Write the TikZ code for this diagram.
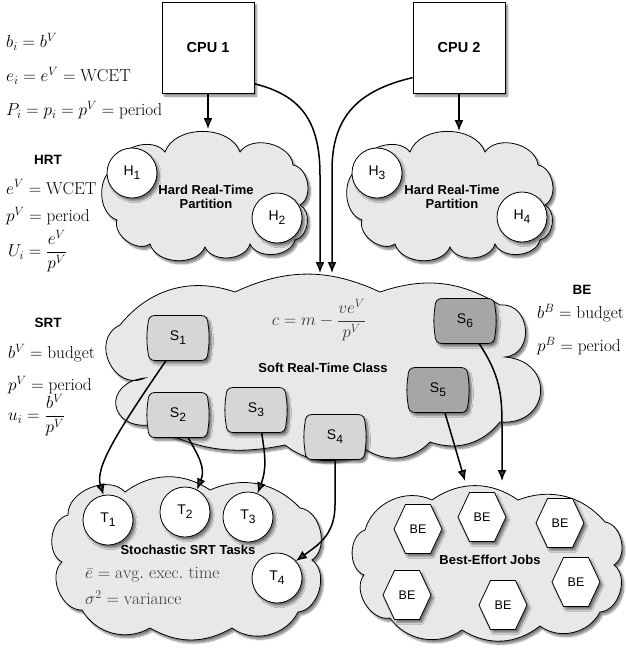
\documentclass[tikz,border=0pt]{standalone}
\usepackage{amsmath}
\usepackage{fontspec}
\newfontfamily\hv{Liberation Sans}
\usetikzlibrary{arrows.meta,shadows,shadows.blur,calc}
\definecolor{cloudgray}{gray}{0.91}
\definecolor{sgray}{gray}{0.84}
\definecolor{sdark}{gray}{0.65}
\definecolor{textgray}{gray}{0.22}
\newcommand\lsub[2]{#1\raisebox{-0.55ex}{\fontsize{12}{12}\selectfont #2}}
\begin{document}
\begin{tikzpicture}[x=1pt,y=-1pt,font=\fontsize{17.28}{20}\selectfont,
  shad/.style={blur shadow={shadow xshift=2.5pt,shadow yshift=-3pt,shadow blur steps=8,shadow opacity=50}},
  cloudst/.style={fill=cloudgray,draw=black,line width=0.8pt,shad},
  cpubox/.style={draw,fill=white,line width=0.8pt,minimum width=92,minimum height=91,inner sep=0,font=\hv\bfseries\fontsize{14.5}{16}\selectfont,shad},
  ball/.style={circle,draw,fill=white,line width=0.8pt,minimum size=50,inner sep=0,font=\hv\fontsize{14}{16}\selectfont,shad},
  sfill/.style={draw,line width=0.8pt,shad},
  slbl/.style={minimum width=61,minimum height=45,inner sep=0,font=\hv\fontsize{14}{16}\selectfont},
  hexfill/.style={draw,fill=white,line width=0.8pt,shad},
  hexlbl/.style={inner sep=0,font=\hv\fontsize{12.5}{14}\selectfont},
  lbl/.style={font=\hv\bfseries\fontsize{13}{14}\selectfont,align=center,inner sep=0},
  head/.style={font=\hv\bfseries\fontsize{13.5}{15}\selectfont,inner sep=0},
  mtxt/.style={anchor=west,inner sep=0},
  arr/.style={line width=1.5pt,-{Latex[length=11pt,width=9pt]}}]
\newcommand\hexnode[3]{\path[hexfill,shift={#1}] (-24,0) -- (-12.5,-24.5) -- (12.5,-24.5) -- (24,0) -- (12.5,24.5) -- (-12.5,24.5) -- cycle; \node[hexlbl] (#2) at #1 {#3};}
\newcommand\srtnode[4]{\path[sfill,fill=#4,shift={#1}] (-23,-22.5) -- (23,-22.5) .. controls (28,-22.5) and (30,-19) .. (30,-14) .. controls (31.5,-5) and (31.5,5) .. (30,14) .. controls (30,19) and (28,22.5) .. (23,22.5) -- (-23,22.5) .. controls (-28,22.5) and (-30,19) .. (-30,14) .. controls (-31.5,5) and (-31.5,-5) .. (-30,-14) .. controls (-30,-19) and (-28,-22.5) .. (-23,-22.5) -- cycle; \node[slbl] (#2) at #1 {#3};}
\useasboundingbox (0,0) rectangle (626,649);

% ---- clouds
\path[cloudst] (115,168) to[bend left=70] (165,152) to[bend left=70] (240,152) to[bend left=70] (293,165) to[bend left=70] (300,205) to[bend left=70] (295,240) to[bend left=70] (250,244) to[bend left=70] (205,247) to[bend left=70] (150,244) to[bend left=70] (117,220) to[bend left=70] (115,168) -- cycle;
\begin{scope}[xshift=245pt]
\path[cloudst] (115,168) to[bend left=70] (165,152) to[bend left=70] (240,152) to[bend left=70] (293,165) to[bend left=70] (300,205) to[bend left=70] (295,240) to[bend left=70] (250,244) to[bend left=70] (205,247) to[bend left=70] (150,244) to[bend left=70] (117,220) to[bend left=70] (115,168) -- cycle;
\end{scope}
\path[cloudst] (120,325) to[bend left=35] (235,292) to[bend left=25] (380,292) to[bend left=25] (500,305) to[bend left=90,looseness=1.5] (505,357) to[bend left=90,looseness=2] (500,422) to[bend left=35] (430,442) to[bend left=40] (365,449) to[bend left=35] (285,445) to[bend left=20] (150,425) to[bend left=90,looseness=2.3] (145,378) to[bend left=90,looseness=1.5] (120,325) -- cycle;
\path[cloudst] (68,515) to[bend left=70] (125,492) to[bend left=35] (210,490) to[bend left=35] (300,508) to[bend left=70] (312,560) to[bend left=70] (298,612) to[bend left=50] (232,628) to[bend left=30] (150,628) to[bend left=45] (82,610) to[bend left=70] (62,562) to[bend left=70] (68,515) -- cycle;
\path[cloudst] (365,530) to[bend left=50] (432,500) to[bend left=35] (518,500) to[bend left=35] (605,522) to[bend left=70] (614,565) to[bend left=70] (600,612) to[bend left=50] (540,626) to[bend left=35] (462,630) to[bend left=45] (390,618) to[bend left=70] (364,575) to[bend left=70] (365,530) -- cycle;

% ---- CPUs
\node[cpubox] (cpu1) at (208,47.5) {CPU 1};
\node[cpubox] (cpu2) at (459,47.5) {CPU 2};

% ---- HRT partitions
\node[ball] (h1) at (132,173) {\lsub{H}{1}};
\node[ball] (h2) at (277,218) {\lsub{H}{2}};
\node[ball] (h3) at (377,173) {\lsub{H}{3}};
\node[ball] (h4) at (522,217) {\lsub{H}{4}};
\node[lbl] (hrt1lbl) at (206,197) {Hard Real-Time\\Partition};
\node[lbl] (hrt2lbl) at (452,197) {Hard Real-Time\\Partition};

% ---- SRT class
\node[textgray] (cform) at (319,320) {$c = m - \dfrac{ve^V}{p^V}$};
\node[lbl] (srtlbl) at (323,368) {Soft Real-Time Class};
\srtnode{(178,338)}{s1}{\lsub{S}{1}}{sgray}
\srtnode{(178,415)}{s2}{\lsub{S}{2}}{sgray}
\srtnode{(256,410)}{s3}{\lsub{S}{3}}{sgray}
\srtnode{(335,437)}{s4}{\lsub{S}{4}}{sgray}
\srtnode{(438,390)}{s5}{\lsub{S}{5}}{sdark}
\srtnode{(465,321)}{s6}{\lsub{S}{6}}{sdark}

% ---- stochastic tasks
\node[ball] (t1) at (108,520) {\lsub{T}{1}};
\node[ball] (t2) at (185,512) {\lsub{T}{2}};
\node[ball] (t3) at (248,517) {\lsub{T}{3}};
\node[ball] (t4) at (277,578) {\lsub{T}{4}};
\node[lbl] (stlbl) at (188,550) {Stochastic SRT Tasks};
\node[mtxt,textgray] (e1) at (85,575) {$\bar e = \mathrm{avg.\ exec.\ time}$};
\node[mtxt,textgray] (e2) at (85,598) {$\sigma^2 = \mathrm{variance}$};

% ---- best effort
\hexnode{(418,529)}{be1}{BE}
\hexnode{(482,517)}{be2}{BE}
\hexnode{(560,523)}{be3}{BE}
\hexnode{(407,595)}{be4}{BE}
\hexnode{(503,605)}{be5}{BE}
\hexnode{(576,582)}{be6}{BE}
\node[lbl] (belbl) at (490,560) {Best-Effort Jobs};

% ---- side texts
\node[mtxt] (m1) at (6,42) {$b_i = b^V$};
\node[mtxt] (m2) at (6,76) {$e_i = e^V = \mathrm{WCET}$};
\node[mtxt] (m3) at (6,110) {$P_i = p_i = p^V = \mathrm{period}$};
\node[head] (hrth) at (48,160) {HRT};
\node[mtxt] (m4) at (6,187) {$e^V = \mathrm{WCET}$};
\node[mtxt] (m5) at (6,216) {$p^V = \mathrm{period}$};
\node[mtxt] (m6) at (8,251) {$U_i = \dfrac{e^V}{p^V}$};
\node[head] (srth) at (48,323) {SRT};
\node[mtxt] (m7) at (8,353) {$b^V = \mathrm{budget}$};
\node[mtxt] (m8) at (8,385) {$p^V = \mathrm{period}$};
\node[mtxt] (m9) at (8,415) {$u_i = \dfrac{b^V}{p^V}$};
\node[head] (beh) at (582,290) {BE};
\node[mtxt] (m10) at (537,313) {$b^B = \mathrm{budget}$};
\node[mtxt] (m11) at (537,346) {$p^B = \mathrm{period}$};

% ---- connector end points
\coordinate (hrt1top) at (208,129);
\coordinate (hrt2top) at (459,131);
\coordinate (srtin1) at (320,273);
\coordinate (srtin2) at (332,273);
\coordinate (bein1) at (465,481);
\coordinate (bein2) at (502,481);

% ---- arrows
\draw[arr] (cpu1.south) -- (hrt1top);
\draw[arr] (cpu2.south) -- (hrt2top);
\draw[arr] (cpu1.-38) .. controls (300,95) and (320,120) .. (320,175) -- (srtin1);
\draw[arr] (cpu2.213) .. controls (360,90) and (332,115) .. (332,170) -- (srtin2);
\draw[arr] (s1.-118) .. controls (115,435) and (95,468) .. (t1.100);
\draw[arr] (s2.-66) .. controls (198,455) and (206,468) .. (t2.62);
\draw[arr] (s3.-76) .. controls (265,455) and (267,468) .. (t3.68);
\draw[arr] (s4.south) -- (335,505) .. controls (335,535) and (318,545) .. (t4.42);
\draw[arr] (s5.-73) -- (bein1);
\draw[arr] (s6.-58) .. controls (500,375) and (502,395) .. (502,425) -- (bein2);
\end{tikzpicture}
\end{document}
